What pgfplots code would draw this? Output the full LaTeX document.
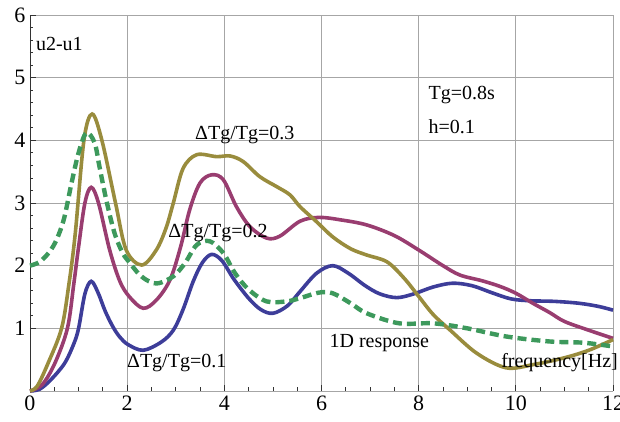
\documentclass[border=0pt]{standalone}
\usepackage{fontspec}
\setmainfont{Liberation Serif}
\usepackage{pgfplots}
\pgfplotsset{compat=1.18}
\definecolor{cblue}{rgb}{0.24,0.24,0.6}
\definecolor{cmag}{rgb}{0.6,0.24,0.44}
\definecolor{colive}{rgb}{0.6,0.55,0.24}
\definecolor{cgreen}{rgb}{0.24,0.6,0.36}
\begin{document}
\begin{tikzpicture}
\begin{axis}[
  scale only axis,
  width=583bp, height=376bp,
  xmin=0, xmax=12, ymin=0, ymax=6,
  axis lines=left,
  axis line style={-, black!80, line width=1pt},
  xtick={0,2,...,12}, ytick={1,2,...,6},
  extra y ticks={0}, extra y tick labels={},
  minor x tick num=3, minor y tick num=4,
  tick align=inside,
  major tick length=6bp, minor tick length=3.5bp,
  tick style={black!80, line width=0.8pt},
  grid=major,
  major grid style={gray!70, line width=0.8pt},
  /pgf/number format/assume math mode=true,
  tick label style={font=\fontsize{22bp}{25bp}\selectfont},
  xticklabel style={yshift=-1bp},
  yticklabel style={xshift=-1bp},
  clip=false,
]
\addplot[cblue, line width=3.6bp, smooth, tension=0.55] coordinates {
(0,0) (0.2,0.03) (0.43,0.18) (0.71,0.44) (0.9,0.75) (1.0,1.0) (1.13,1.55) (1.26,1.75)
(1.4,1.57) (1.55,1.27) (1.71,1.02) (1.85,0.86) (2.02,0.74) (2.33,0.65) (2.7,0.78)
(2.95,0.97) (3.15,1.3) (3.36,1.75) (3.55,2.05) (3.74,2.18) (3.95,2.08)
(4.2,1.78) (4.5,1.48) (4.75,1.3) (5.0,1.24) (5.3,1.36) (5.55,1.58)
(5.9,1.88) (6.23,2.0) (6.55,1.88) (6.9,1.68) (7.2,1.55) (7.55,1.49)
(7.9,1.55) (8.3,1.66) (8.7,1.72) (9.1,1.68) (9.5,1.57) (9.9,1.47)
(10.3,1.44) (10.8,1.43) (11.3,1.4) (11.7,1.35) (12,1.29)};
\addplot[cmag, line width=3.6bp, smooth, tension=0.55] coordinates {
(0,0) (0.25,0.1) (0.51,0.44) (0.77,1.0) (0.9,1.7) (1.0,2.3) (1.13,3.0)
(1.26,3.25) (1.41,3.0) (1.64,2.25) (1.85,1.75) (2.05,1.5) (2.33,1.32)
(2.6,1.45) (2.88,1.77) (3.1,2.3) (3.29,2.9) (3.5,3.32) (3.74,3.45)
(3.98,3.37) (4.25,2.94) (4.53,2.62) (4.87,2.44) (5.14,2.47) (5.56,2.71)
(5.95,2.77) (6.4,2.73) (6.93,2.65) (7.5,2.48) (8.0,2.25) (8.5,2.0)
(8.85,1.85) (9.3,1.76) (9.67,1.67) (10.0,1.56) (10.35,1.4) (10.7,1.25)
(11.0,1.11) (11.5,0.97) (12,0.84)};
\addplot[colive, line width=3.6bp, smooth, tension=0.55] coordinates {
(0,0) (0.15,0.08) (0.37,0.44) (0.65,1.0) (0.8,1.7) (0.93,2.5)
(1.11,4.0) (1.28,4.42) (1.48,4.0) (1.76,3.0) (1.98,2.25) (2.3,2.01)
(2.6,2.25) (2.8,2.6) (2.95,3.0) (3.15,3.55) (3.43,3.77) (3.84,3.74) (4.12,3.75)
(4.39,3.66) (4.73,3.42) (5.08,3.26) (5.35,3.13) (5.56,2.94) (5.9,2.7)
(6.23,2.46) (6.6,2.27) (6.93,2.17) (7.35,2.06) (7.7,1.8) (8.0,1.51)
(8.3,1.22) (8.65,0.97) (9.2,0.6) (9.8,0.37) (10.35,0.42) (11.0,0.53)
(11.5,0.65) (12,0.82)};
\addplot[cgreen, line width=4.4bp, dash pattern=on 9bp off 5bp, smooth, tension=0.55] coordinates {
(0,2.0) (0.2,2.06) (0.4,2.22) (0.55,2.42) (0.7,2.75) (0.85,3.3) (1.0,3.8)
(1.16,4.12) (1.33,3.96) (1.43,3.58) (1.57,3.05) (1.74,2.52) (1.91,2.2)
(2.05,2.05) (2.25,1.86) (2.45,1.75) (2.65,1.72) (2.95,1.83) (3.19,2.04)
(3.43,2.33) (3.7,2.39) (3.98,2.2) (4.22,1.88) (4.5,1.62) (4.87,1.43)
(5.28,1.43) (5.55,1.48) (5.95,1.57) (6.23,1.56) (6.6,1.4) (6.93,1.24)
(7.6,1.08) (8.3,1.08) (9.0,1.0) (9.8,0.87) (10.7,0.79) (11.4,0.77) (12,0.71)};
\begin{scope}[every node/.style={inner sep=0pt, font=\fontsize{20bp}{24bp}\selectfont}]
\node[anchor=west] at (axis cs:0.12,5.54) {u2-u1};
\node at (axis cs:4.42,4.09) {ΔTg/Tg=0.3};
\node at (axis cs:3.87,2.52) {ΔTg/Tg=0.2};
\node at (axis cs:3.02,0.45) {ΔTg/Tg=0.1};
\node at (axis cs:7.19,0.77) {1D response};
\node at (axis cs:10.9,0.45) {frequency[Hz]};
\node[anchor=west] at (axis cs:8.2,4.73) {Tg=0.8s};
\node[anchor=west] at (axis cs:8.2,4.22) {h=0.1};
\end{scope}
\end{axis}
\pgfresetboundingbox
\useasboundingbox (-30bp,-31bp) rectangle (590bp,391bp);
\end{tikzpicture}
\end{document}
